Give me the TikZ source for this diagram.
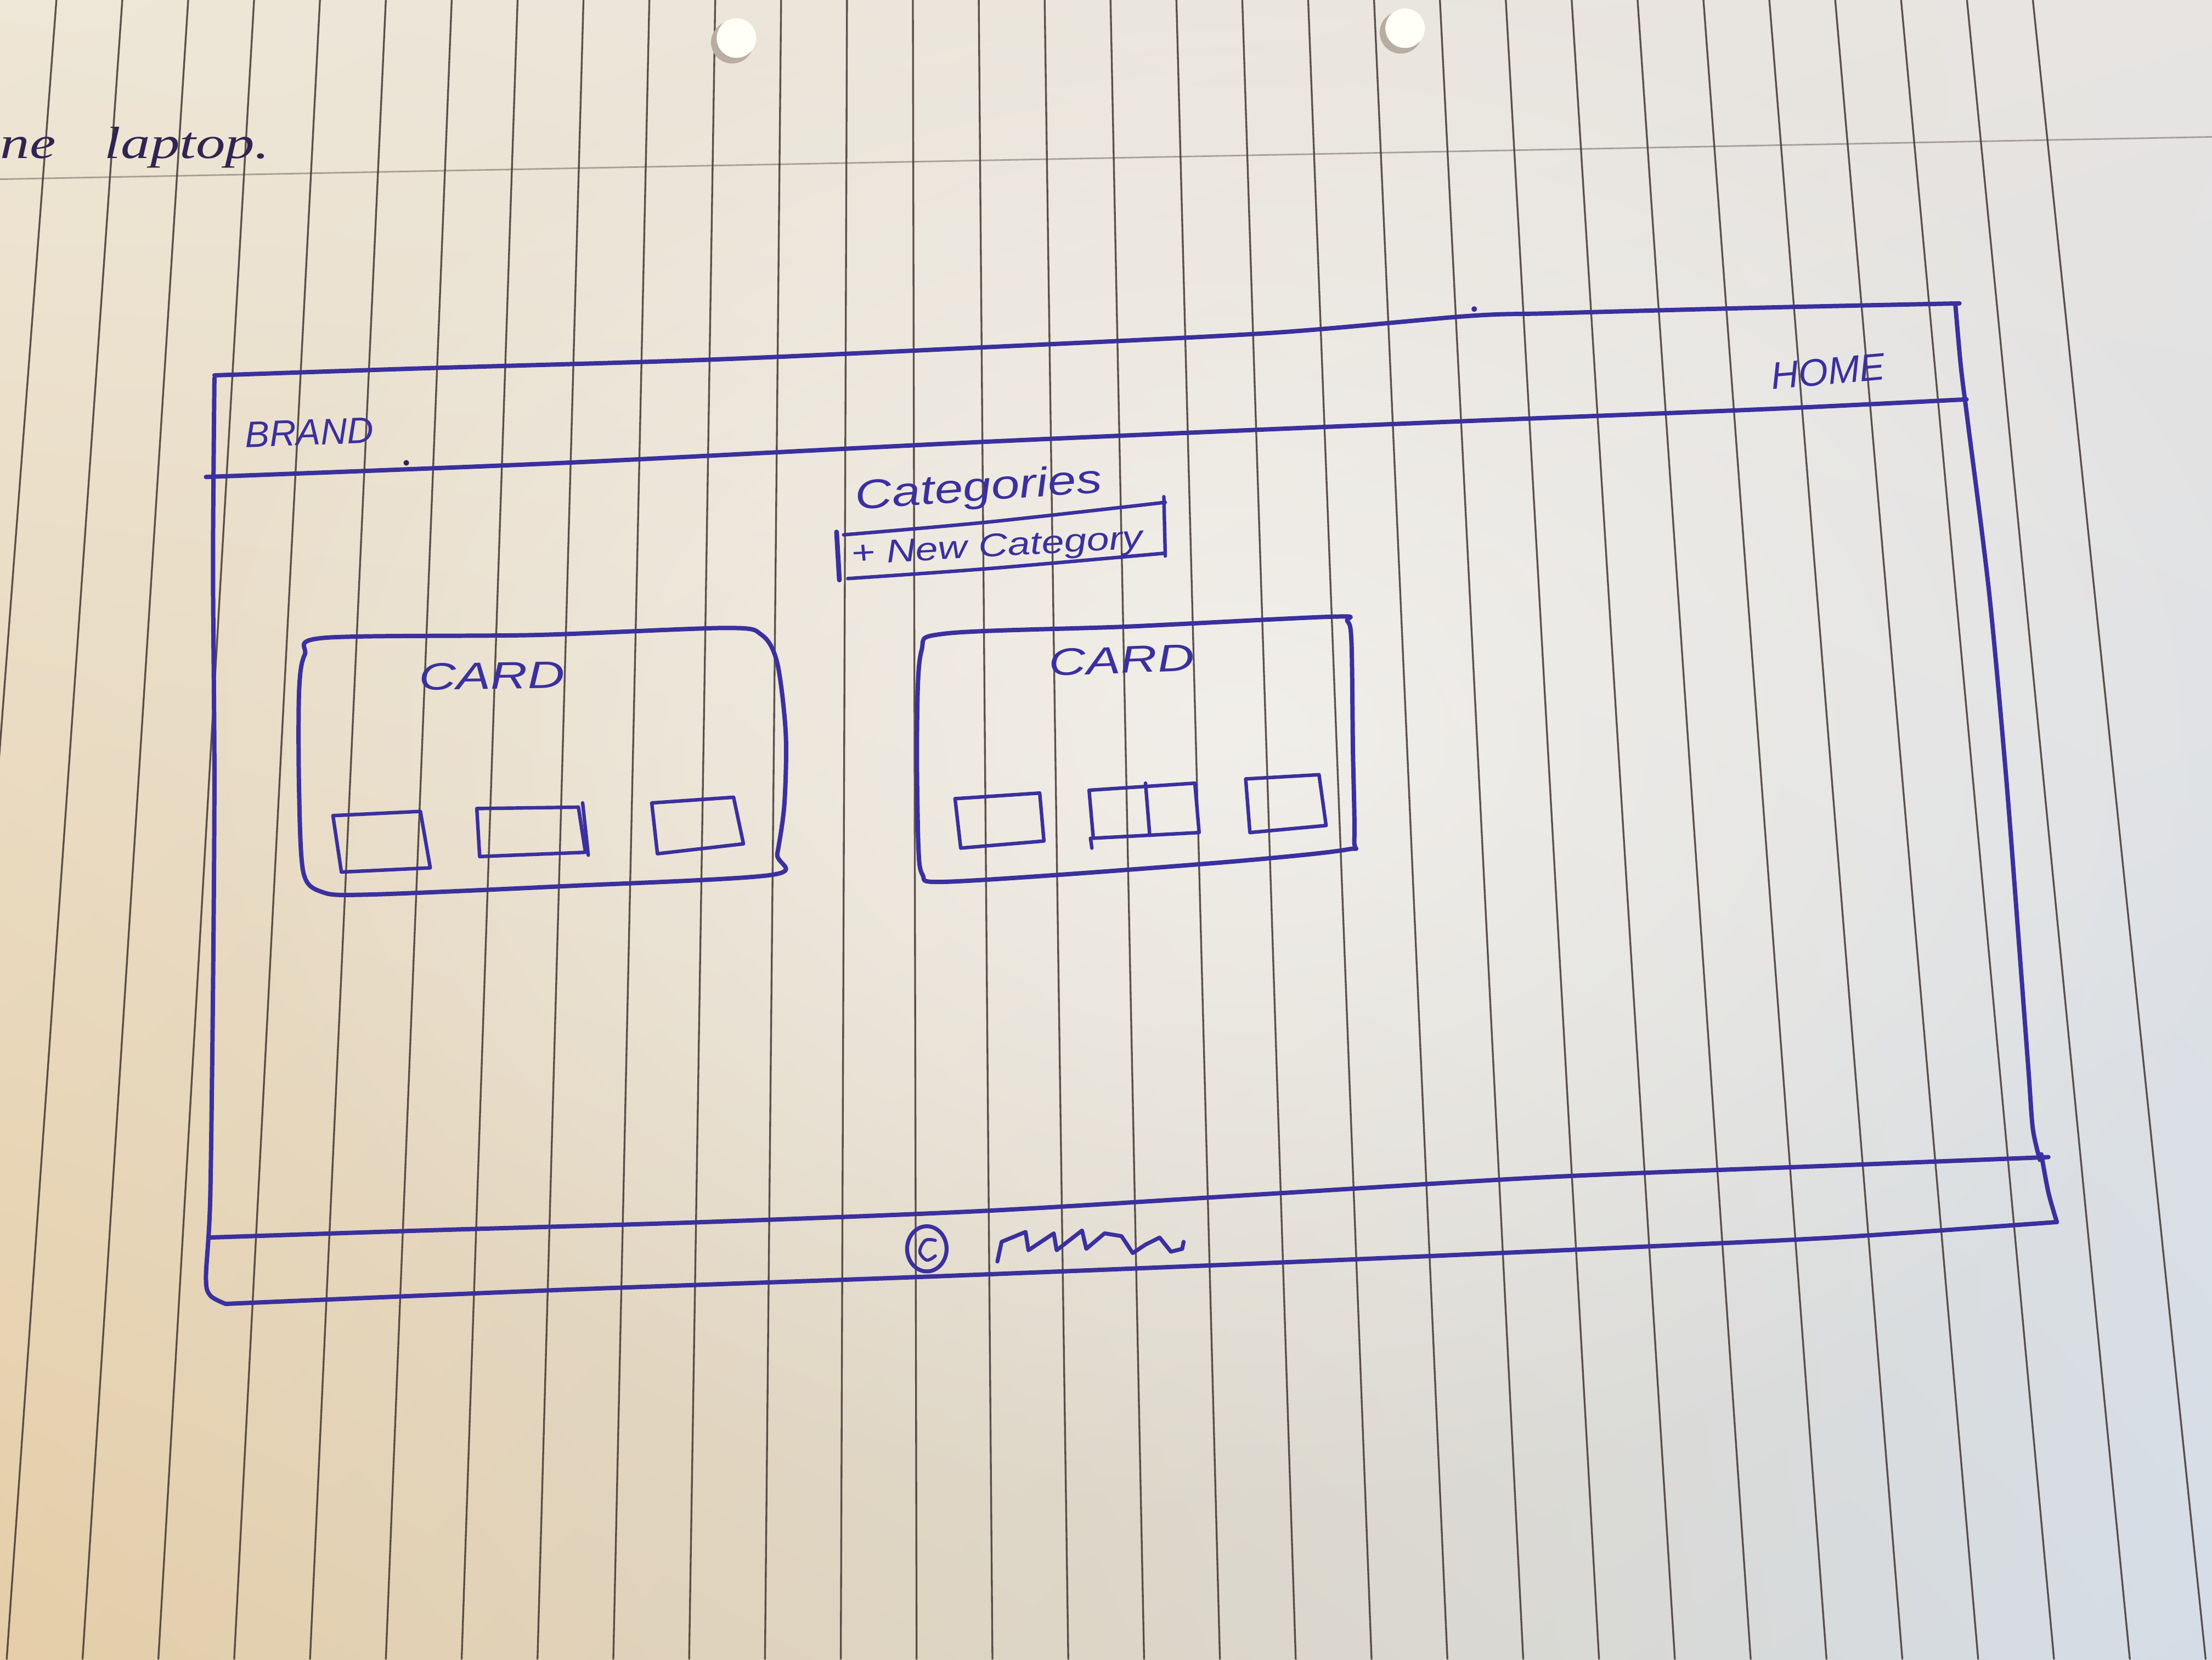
\documentclass[tikz,border=0pt]{standalone}
\usepackage{fontspec}
\setmainfont{Liberation Sans}
\newfontfamily\handfont{Liberation Sans}
\newfontfamily\notefont{Liberation Serif}
\usetikzlibrary{shadings,fadings}
\definecolor{ink}{RGB}{58,48,158}
\definecolor{pen}{RGB}{48,36,80}
\definecolor{ruling}{RGB}{66,54,50}
\definecolor{paperUL}{RGB}{238,230,214}
\definecolor{paperUR}{RGB}{231,228,226}
\definecolor{paperLL}{RGB}{229,206,168}
\definecolor{paperLR}{RGB}{212,221,231}
\definecolor{holeshade}{RGB}{185,172,160}
\tikzfading[name=paperglow,inner color=transparent!0,outer color=transparent!100]
\begin{document}
\begin{tikzpicture}[x=1pt,y=-1pt,
  inkline/.style={draw=ink,line width=3.1pt,line cap=round,line join=round},
  inkthin/.style={draw=ink,line width=2.5pt,line cap=round,line join=round},
  handtext/.style={text=ink,inner sep=0pt,anchor=base west},
  notetext/.style={text=pen,inner sep=0pt,anchor=base west,
    font=\notefont\itshape\fontsize{32pt}{36pt}\selectfont,xscale=1.3},
  rulestyle/.style={draw=ruling,line width=1.3pt,opacity=0.85},
  holestyle/.style={fill=white!97!yellow}]
\useasboundingbox (0,0) rectangle (1568,1176);
\clip (0,0) rectangle (1568,1176);

% paper
\shade[shading=bilinear interpolation,upper left=paperUL,upper right=paperUR,
  lower left=paperLL,lower right=paperLR] (0,0) rectangle (1568,1176);
\fill[white,opacity=0.5,path fading=paperglow] (880,520) ellipse (760 and 560);

% vertical ruling of the pad
\foreach \i in {0,...,30}{
  \draw[rulestyle] ({40+46.7*\i},0) -- ({-49+53.75*\i},1176);
}
% header margin line
\draw[draw=ruling,line width=1.1pt,opacity=0.4] (0,127) -- (1568,97);

% punched holes
\fill[holeshade] (519,30) circle (15);
\fill[holestyle] (522,27) circle (14);
\fill[holeshade] (993,23) circle (15);
\fill[holestyle] (996,20) circle (14);

% note at the top of the page
\node[notetext] (noteA) at (0,112) {ne};
\node[notetext] (noteB) at (74,112) {laptop.};

% ---- page frame ----
\draw[inkline] plot[smooth,tension=0.5] coordinates
  {(152,266) (300,261) (500,255) (700,246) (900,236) (1040,224)
   (1100,222) (1250,218) (1389,215)};
\fill[ink] (1045,219) circle (2);
\draw[inkline] plot[smooth,tension=0.5] coordinates
  {(1386,215) (1390,260) (1395,300) (1410,420) (1422,550) (1432,680)
   (1438,760) (1441,800) (1446,822)};
\draw[inkline] plot[smooth,tension=0.5] coordinates
  {(1447,818) (1452,845) (1458,866)};
\draw[inkline] plot[smooth,tension=0.5] coordinates
  {(152,268) (151,400) (152,550) (151,700) (149,850) (146,905) (149,918) (160,924)};
\draw[inkline] plot[smooth,tension=0.5] coordinates
  {(160,924) (400,914) (650,905) (900,895) (1130,885) (1300,877) (1458,866)};
% header divider
\draw[inkline] plot[smooth,tension=0.5] coordinates
  {(146,338) (400,328) (700,313) (1000,300) (1250,290) (1394,283)};
% footer divider
\draw[inkline] plot[smooth,tension=0.5] coordinates
  {(148,877) (300,872) (500,866) (700,858) (900,846) (1100,834) (1300,826) (1452,820)};

% header texts
\node[handtext,font=\handfont\itshape\fontsize{26pt}{30pt}\selectfont,rotate=2]
  (brand) at (174,317) {BRAND};
\fill[pen] (288,328) circle (2);
\node[handtext,font=\handfont\itshape\fontsize{27pt}{30pt}\selectfont,rotate=5]
  (home) at (1256,276) {HOME};

% section title and button
\node[handtext,font=\handfont\itshape\fontsize{29pt}{32pt}\selectfont,xscale=1.25,rotate=5]
  (categories) at (607,361) {Categories};
\node[handtext,font=\handfont\itshape\fontsize{23pt}{26pt}\selectfont,xscale=1.25,rotate=4]
  (newcat) at (604,400) {+ New Category};
\draw[inkthin] plot[smooth,tension=0.5] coordinates {(598,379) (700,370) (826,356)};
\draw[inkthin] (825,352) -- (826,394);
\draw[inkthin] plot[smooth,tension=0.5] coordinates {(601,410) (700,403) (826,392)};
\draw[inkline,line width=3.4pt] (593,377) -- (595,411);

% ---- first card ----
\draw[inkline] plot[smooth cycle,tension=0.5] coordinates
  {(230,452) (380,450) (515,445) (540,450) (551,470) (557,520) (556,570)
   (551,605) (547,620) (400,628) (260,634) (228,632) (215,618) (212,560)
   (212,490) (216,464)};
\node[handtext,font=\handfont\itshape\fontsize{27pt}{30pt}\selectfont,xscale=1.35,rotate=1]
  (cardA) at (297,489) {CARD};
\draw[inkthin] (236,578) -- (298,575) -- (305,615) -- (242,618) -- cycle;
\draw[inkthin] (338,573) -- (410,572) -- (415,604) -- (340,607) -- cycle;
\draw[inkthin] (413,569) -- (417,606);
\draw[inkthin] (462,569) -- (520,565) -- (527,598) -- (466,605) -- cycle;

% ---- second card ----
\draw[inkline] plot[smooth cycle,tension=0.5] coordinates
  {(670,449) (800,444) (945,437) (955,440) (958,455) (959,530) (960,595)
   (955,602) (880,610) (750,620) (665,625) (654,620) (651,600) (650,520)
   (653,462)};
\node[handtext,font=\handfont\itshape\fontsize{27pt}{30pt}\selectfont,xscale=1.35,rotate=3]
  (cardB) at (744,479) {CARD};
\draw[inkthin] (677,566) -- (737,562) -- (740,596) -- (681,601) -- cycle;
\draw[inkthin] (772,560) -- (847,555) -- (850,590) -- (775,594) -- cycle;
\draw[inkthin] (812,555) -- (815,592);
\draw[inkthin] (773,594) -- (774,601);
\draw[inkthin] (883,552) -- (935,549) -- (940,585) -- (886,590) -- cycle;

% ---- footer ----
\draw[inkthin,line width=2.8pt] (657,885) ellipse (14 and 16);
\draw[inkthin,line width=2.2pt] plot[smooth,tension=0.6] coordinates
  {(663,879) (656,879) (652,887) (657,893) (663,890)};
\draw[inkthin,line width=2.8pt] (707,894) -- (710,880) -- (727,873) -- (729,886)
  -- (747,874) -- (749,886) -- (767,872) -- (770,885) -- (783,874) -- (795,876)
  -- (803,888) -- (812,882) -- (822,877) -- (830,887) -- (838,885) -- (839,880);
\end{tikzpicture}
\end{document}
